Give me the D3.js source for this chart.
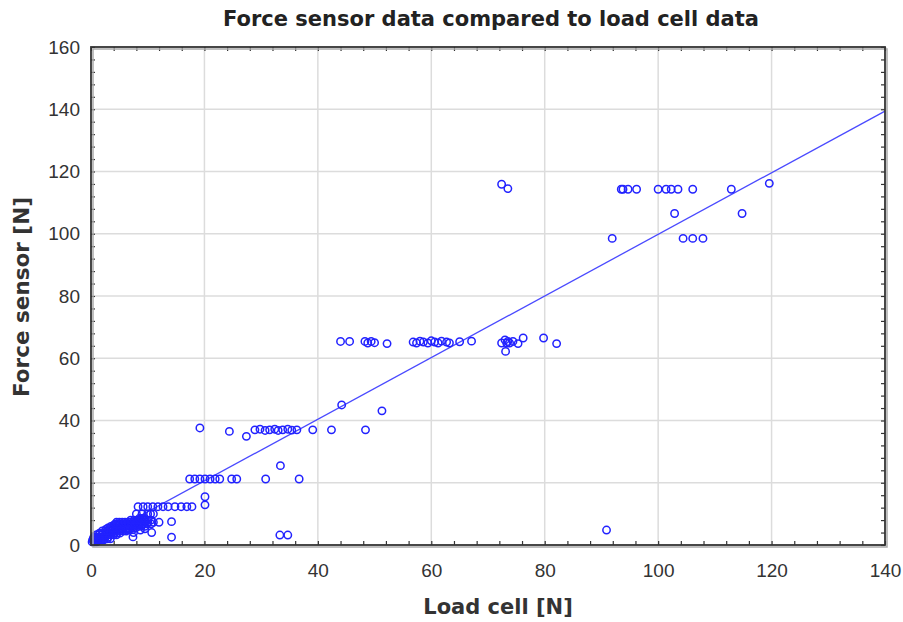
<!DOCTYPE html>
<html>
<head>
<meta charset="utf-8">
<script src="https://cdn.jsdelivr.net/npm/d3@7"></script>
<style>
  body { margin: 0; background: #fff; }
  svg { display: block; }
</style>
</head>
<body>
<svg id="chart" width="903" height="622"></svg>
<script>
// Measurements: load cell reading vs. force sensor reading, in newtons
const loadCell = [
  // low range cluster
  0.2, 0.6, 1.0,
  0.3, 0.8, 1.2, 1.7, 2.2,
  0.4, 0.9, 1.4, 1.9, 2.4, 2.9, 3.4,
  0.5, 1.0, 1.5, 2.0, 2.5, 3.0,
  1.0, 1.5, 2.0, 2.5, 3.0, 3.5, 4.0, 4.5,
  1.5, 2.1, 2.7, 3.3, 3.9, 4.5, 5.1,
  2.0, 2.6, 3.2, 3.8, 4.4, 5.0, 5.6, 6.2,
  2.6, 3.2, 3.8, 4.4, 5.0, 5.6, 6.2, 6.8, 7.4,
  3.0, 3.7, 4.4, 5.1, 5.8, 6.5, 7.2, 7.9,
  3.5, 4.1, 4.7, 5.3, 5.9, 6.5, 7.1, 7.7, 8.3, 8.9, 9.5,
  4.0, 4.8, 5.6, 6.4, 7.2, 8.0, 8.8,
  4.3, 5.0, 5.7, 6.4, 7.1, 7.8, 8.5, 9.2, 9.9, 10.6,
  4.5, 5.0, 5.5, 6.0, 6.5, 7.0, 7.5, 8.0, 8.5, 9.0, 9.5, 10.0, 11.0, 12.0,
  7.0, 7.6, 8.2, 8.8, 9.4, 10.0, 10.6,
  8.5, 9.0, 9.5, 8.0, 9.0, 10.0, 10.5, 11.0,
  8.3, 9.2, 10.0, 10.9, 11.8, 12.7, 13.6, 14.8, 15.9, 16.9, 17.8,
  7.4, 10.7, 8.7, 14.2, 14.2, 6.5, 7.5, 9.5,
  // ~20 N step
  17.4, 18.3, 19.2, 20.1, 21.0, 21.9, 22.7, 24.8, 25.7, 30.8, 36.7, 33.4,
  20.1, 20.1, 33.3, 34.7,
  // ~37 N step
  19.2, 24.4, 27.4, 28.9, 29.8, 30.7, 31.5, 32.4, 33.0, 33.8, 34.7, 35.4, 36.3,
  39.1, 42.4, 48.4, 44.2, 51.3,
  // ~65 N step
  44.0, 45.6, 48.3, 48.8, 49.4, 50.0, 52.2,
  56.8, 57.4, 58.0, 58.6, 59.4, 60.0, 60.6, 61.2, 61.8, 62.7, 63.2, 65.0, 67.1,
  72.4, 73.0, 73.3, 73.5, 73.8, 73.1, 74.4, 75.3, 76.2, 79.8, 82.1,
  // ~100-115 N step
  72.4, 73.5,
  93.5, 93.8, 94.7, 96.2, 100.0, 101.4, 102.3, 103.5, 106.1, 112.9, 119.6,
  102.9, 114.8, 91.9, 104.4, 106.1, 107.9,
  90.9
];
const forceSensor = [
  1.0, 1.0, 1.0,
  1.6, 1.6, 1.6, 1.6, 1.6,
  2.0, 2.0, 2.0, 2.0, 2.0, 2.0, 2.0,
  2.5, 2.5, 2.5, 2.5, 2.5, 2.5,
  3.3, 3.3, 3.3, 3.3, 3.3, 3.3, 3.3, 3.3,
  3.8, 3.8, 3.8, 3.8, 3.8, 3.8, 3.8,
  4.5, 4.5, 4.5, 4.5, 4.5, 4.5, 4.5, 4.5,
  5.0, 5.0, 5.0, 5.0, 5.0, 5.0, 5.0, 5.0, 5.0,
  5.5, 5.5, 5.5, 5.5, 5.5, 5.5, 5.5, 5.5,
  6.0, 6.0, 6.0, 6.0, 6.0, 6.0, 6.0, 6.0, 6.0, 6.0, 6.0,
  6.4, 6.4, 6.4, 6.4, 6.4, 6.4, 6.4,
  6.8, 6.8, 6.8, 6.8, 6.8, 6.8, 6.8, 6.8, 6.8, 6.8,
  7.3, 7.3, 7.3, 7.3, 7.3, 7.3, 7.3, 7.3, 7.3, 7.3, 7.3, 7.3, 7.3, 7.3,
  8.0, 8.0, 8.0, 8.0, 8.0, 8.0, 8.0,
  8.5, 8.5, 8.5, 10.0, 10.0, 10.0, 10.0, 10.0,
  12.3, 12.3, 12.3, 12.3, 12.3, 12.3, 12.3, 12.3, 12.3, 12.3, 12.3,
  2.6, 4.0, 4.8, 2.5, 7.5, 5.0, 4.0, 5.2,
  21.2, 21.2, 21.2, 21.2, 21.2, 21.2, 21.2, 21.2, 21.2, 21.2, 21.2, 25.5,
  15.5, 12.9, 3.2, 3.2,
  37.6, 36.5, 34.9, 37.0, 37.2, 36.8, 37.0, 37.2, 36.8, 37.0, 37.2, 36.9, 37.0,
  37.0, 37.0, 37.0, 45.0, 43.1,
  65.4, 65.4, 65.4, 64.9, 65.4, 65.0, 64.7,
  65.2, 64.9, 65.5, 65.2, 64.9, 65.6, 65.2, 64.9, 65.5, 65.2, 64.9, 65.3, 65.5,
  64.9, 65.9, 64.9, 65.4, 64.9, 62.2, 65.4, 64.7, 66.5, 66.5, 64.7,
  115.9, 114.5,
  114.3, 114.3, 114.3, 114.3, 114.3, 114.3, 114.3, 114.3, 114.3, 114.3, 116.2,
  106.5, 106.5, 98.5, 98.5, 98.5, 98.5,
  4.8
];
// Fitted line: force = intercept + slope * load
const fitIntercept = 0.8;
const fitSlope = 0.99;

const xTicks = [0, 20, 40, 60, 80, 100, 120, 140];
const yTicks = [0, 20, 40, 60, 80, 100, 120, 140, 160];
const minorStep = 4;

const title = "Force sensor data compared to load cell data";
const xTitle = "Load cell [N]";
const yTitle = "Force sensor [N]";

const tickFont = "'Liberation Sans', Arial, sans-serif";
const boldFont = "'DejaVu Sans', Verdana, sans-serif";

const svg = d3.select("#chart");
const m = { left: 91, right: 18, top: 47, bottom: 77 };
const W = 903, H = 622;
const x = d3.scaleLinear().domain([0, 140]).range([m.left, W - m.right]);
const y = d3.scaleLinear().domain([0, 160]).range([H - m.bottom, m.top]);
const pw = x(140) - x(0), ph = y(0) - y(160);

// grid
const grid = svg.append("g").attr("stroke", "#dcdcdc").attr("stroke-width", 1.5);
grid.selectAll(".gx").data(xTicks.slice(1, -1)).join("line")
  .attr("x1", d => x(d)).attr("x2", d => x(d)).attr("y1", y(160)).attr("y2", y(0));
grid.selectAll(".gy").data(yTicks.slice(1, -1)).join("line")
  .attr("y1", d => y(d)).attr("y2", d => y(d)).attr("x1", x(0)).attr("x2", x(140));

// minor ticks inside the frame on all sides
const xMinor = d3.range(0, 140 + 0.001, minorStep);
const yMinor = d3.range(0, 160 + 0.001, minorStep);
function tickAxis(axis, tickVals, transform) {
  const g = svg.append("g").attr("transform", transform)
    .call(axis.tickValues(tickVals).tickSize(-4).tickFormat(""));
  g.select(".domain").remove();
  g.selectAll("line").attr("stroke", "#333").attr("stroke-width", 1.2);
}
tickAxis(d3.axisLeft(y), yMinor, `translate(${x(0)},0)`);
tickAxis(d3.axisRight(y), yMinor, `translate(${x(140)},0)`);
tickAxis(d3.axisBottom(x), xMinor, `translate(0,${y(0)})`);
tickAxis(d3.axisTop(x), xMinor, `translate(0,${y(160)})`);

// tick labels
const xAxis = svg.append("g").attr("transform", `translate(0,${y(0)})`)
  .call(d3.axisBottom(x).tickValues(xTicks).tickSize(0).tickPadding(19));
xAxis.select(".domain").remove();
xAxis.selectAll("text").style("font-size", "19px").attr("fill", "#333")
  .style("font-family", tickFont);
const yAxis = svg.append("g").attr("transform", `translate(${x(0)},0)`)
  .call(d3.axisLeft(y).tickValues(yTicks).tickSize(0).tickPadding(11));
yAxis.select(".domain").remove();
yAxis.selectAll("text").style("font-size", "19px").attr("fill", "#333")
  .style("font-family", tickFont);

// fit line
svg.append("line")
  .attr("x1", x(0)).attr("y1", y(fitIntercept))
  .attr("x2", x(140)).attr("y2", y(fitIntercept + fitSlope * 140))
  .attr("stroke", "#4a4aff").attr("stroke-width", 1.3);

// points
const pts = loadCell.map((v, i) => [v, forceSensor[i]]);
svg.append("g").selectAll("circle").data(pts).join("circle")
  .attr("cx", d => x(d[0])).attr("cy", d => y(d[1])).attr("r", 3.7)
  .attr("fill", "none").attr("stroke", "#2222ff").attr("stroke-width", 1.5);

// frame with a soft drop shadow on the right and bottom
svg.append("rect").attr("x", x(0) + 2).attr("y", y(160) + 2).attr("width", pw).attr("height", ph)
  .attr("fill", "none").attr("stroke", "#aaa").attr("stroke-width", 1.5);
svg.append("rect").attr("x", x(0)).attr("y", y(160)).attr("width", pw).attr("height", ph)
  .attr("fill", "none").attr("stroke", "#333").attr("stroke-width", 1.8);

// titles
svg.append("text").attr("x", 491).attr("y", 26).attr("text-anchor", "middle")
  .style("font-family", boldFont).style("font-size", "21px").style("font-weight", "bold")
  .attr("fill", "#222").text(title);
svg.append("text").attr("x", 498).attr("y", 614).attr("text-anchor", "middle")
  .style("font-family", boldFont).style("font-size", "21px").style("font-weight", "bold")
  .attr("fill", "#333").text(xTitle);
svg.append("text").attr("transform", "translate(29,297) rotate(-90)").attr("text-anchor", "middle")
  .style("font-family", boldFont).style("font-size", "21.5px").style("font-weight", "bold")
  .attr("fill", "#333").text(yTitle);
</script>
</body>
</html>
